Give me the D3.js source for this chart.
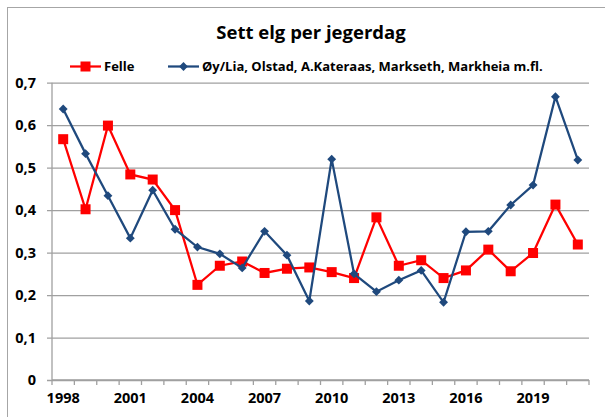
<!DOCTYPE html>
<html lang="no">
<head>
    <meta charset="UTF-8">
    <title>Sett elg per jegerdag</title>
    <script src="https://d3js.org/d3.v7.min.js"></script>
    <style>
        body {
            margin: 0;
            padding: 0;
            background-color: #fff;
            font-family: "Open Sans", Arial, sans-serif;
        }
        svg text {
            font-weight: bold;
            fill: #000;
        }
    </style>
</head>
<body>
    <div id="chart"></div>

    <script>
        // Data
        const years = d3.range(1998, 2022);
        const labelYears = [1998, 2001, 2004, 2007, 2010, 2013, 2016, 2019];
        const yTicks = [0, 0.1, 0.2, 0.3, 0.4, 0.5, 0.6, 0.7];

        const felle = [0.567, 0.402, 0.599, 0.484, 0.472, 0.400, 0.224, 0.269,
            0.279, 0.252, 0.262, 0.265, 0.254, 0.240, 0.383, 0.269,
            0.282, 0.240, 0.258, 0.307, 0.256, 0.299, 0.413, 0.319];
        const oyLia = [0.638, 0.533, 0.434, 0.334, 0.447, 0.355, 0.313, 0.297,
            0.264, 0.350, 0.294, 0.186, 0.520, 0.250, 0.208, 0.235,
            0.258, 0.183, 0.349, 0.350, 0.412, 0.459, 0.667, 0.518];

        const seriesNames = ["Felle", "Øy/Lia, Olstad, A.Kateraas, Markseth, Markheia m.fl."];

        const width = 605, height = 417;
        const red = "#ff0000", blue = "#1f497d";
        const gridColor = "#a0a0a0";

        const svg = d3.select("#chart")
            .append("svg")
            .attr("width", width)
            .attr("height", height);

        // outer chart border (runs off the right and bottom of the picture)
        svg.append("rect")
            .attr("x", 7.5).attr("y", 7.5)
            .attr("width", 640).attr("height", 440)
            .attr("fill", "#fff")
            .attr("stroke", "#a6a6a6");

        const x = d3.scaleBand()
            .domain(years)
            .range([52, 589])
            .padding(0);

        const y = d3.scaleLinear()
            .domain([0, 0.7])
            .range([380, 82.7]);

        const cx = d => x(d) + x.bandwidth() / 2;

        // horizontal gridlines + y labels
        svg.append("g")
            .attr("transform", "translate(52,0)")
            .call(d3.axisLeft(y)
                .tickValues(yTicks)
                .tickSize(-(589 - 52))
                .tickSizeOuter(0)
                .tickPadding(16)
                .tickFormat(d => d === 0 ? "0" : d3.format(".1f")(d).replace(".", ",")))
            .call(g => g.select(".domain").remove())
            .call(g => g.selectAll(".tick line")
                .attr("x1", -5)
                .attr("stroke", gridColor)
                .attr("stroke-width", 1.3))
            .call(g => g.selectAll(".tick text")
                .attr("font-size", "14.5px")
                .attr("font-family", "'Open Sans', sans-serif"));

        // y axis line
        svg.append("line")
            .attr("x1", 52).attr("x2", 52)
            .attr("y1", y(0.7)).attr("y2", y(0))
            .attr("stroke", gridColor)
            .attr("stroke-width", 1.3);

        // x axis: line, boundary ticks, labels every third year
        svg.append("line")
            .attr("x1", 52).attr("x2", 589)
            .attr("y1", y(0)).attr("y2", y(0))
            .attr("stroke", gridColor)
            .attr("stroke-width", 1.3);

        svg.append("g")
            .selectAll("line")
            .data(years.concat([null]))
            .join("line")
            .attr("x1", (d, i) => 52 + i * x.step())
            .attr("x2", (d, i) => 52 + i * x.step())
            .attr("y1", y(0))
            .attr("y2", y(0) + 5)
            .attr("stroke", gridColor)
            .attr("stroke-width", 1.3);

        svg.append("g")
            .attr("transform", `translate(0,${y(0)})`)
            .call(d3.axisBottom(x)
                .tickValues(labelYears)
                .tickSize(0)
                .tickPadding(13))
            .call(g => g.select(".domain").remove())
            .call(g => g.selectAll(".tick text")
                .attr("font-size", "14.5px")
                .attr("font-family", "'Open Sans', sans-serif"));

        // series lines
        const line = d3.line()
            .x((d, i) => cx(years[i]))
            .y(d => y(d));

        svg.append("path")
            .datum(felle)
            .attr("d", line)
            .attr("fill", "none")
            .attr("stroke", red)
            .attr("stroke-width", 2.25);

        svg.append("g")
            .selectAll("rect")
            .data(felle)
            .join("rect")
            .attr("x", (d, i) => cx(years[i]) - 5)
            .attr("y", d => y(d) - 5)
            .attr("width", 10)
            .attr("height", 10)
            .attr("fill", red);

        svg.append("path")
            .datum(oyLia)
            .attr("d", line)
            .attr("fill", "none")
            .attr("stroke", blue)
            .attr("stroke-width", 2.25);

        const diamond = d3.symbol().type(d3.symbolDiamond2).size(50);

        svg.append("g")
            .selectAll("path")
            .data(oyLia)
            .join("path")
            .attr("transform", (d, i) => `translate(${cx(years[i])},${y(d)})`)
            .attr("d", diamond)
            .attr("fill", blue);

        // title
        svg.append("text")
            .attr("x", 311)
            .attr("y", 38.5)
            .attr("text-anchor", "middle")
            .attr("font-size", "18.5px")
            .text("Sett elg per jegerdag");

        // legend
        const legend = svg.append("g");
        const legendItems = [
            { name: seriesNames[0], color: red, x0: 70, marker: "square" },
            { name: seriesNames[1], color: blue, x0: 168, marker: "diamond" }
        ];
        legendItems.forEach(item => {
            legend.append("line")
                .attr("x1", item.x0).attr("x2", item.x0 + 31)
                .attr("y1", 66.5).attr("y2", 66.5)
                .attr("stroke", item.color)
                .attr("stroke-width", 2.25);
            if (item.marker === "square") {
                legend.append("rect")
                    .attr("x", item.x0 + 15.5 - 5).attr("y", 61.5)
                    .attr("width", 10).attr("height", 10)
                    .attr("fill", item.color);
            } else {
                legend.append("path")
                    .attr("transform", `translate(${item.x0 + 15.5},66.5)`)
                    .attr("d", diamond)
                    .attr("fill", item.color);
            }
            legend.append("text")
                .attr("x", item.x0 + 34)
                .attr("y", 71)
                .attr("font-size", "13px")
                .text(item.name);
        });
    </script>
</body>
</html>
